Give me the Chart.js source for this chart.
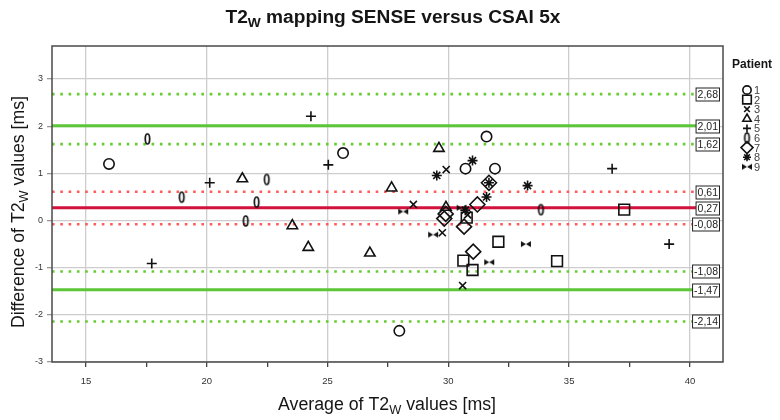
<!DOCTYPE html>
<html>
<head>
<meta charset="utf-8">
<script src="https://cdn.jsdelivr.net/npm/chart.js@4.4.1/dist/chart.umd.min.js"></script>
<style>
  html, body { margin: 0; padding: 0; background: #fff; }
  #wrap { width: 780px; height: 420px; }
</style>
</head>
<body>
<div id="wrap"><canvas id="myChart" width="780" height="420"></canvas></div>
<script>
// DATA
const patients = ['1', '2', '3', '4', '5', '6', '7', '8', '9'];

const avgP1 = [15.95, 25.64, 27.97, 30.71, 31.58, 31.93];
const diffP1 = [1.20, 1.43, -2.34, 1.10, 1.78, 1.10];
const avgP2 = [30.76, 32.07, 30.62, 31.0, 34.5, 37.28];
const diffP2 = [0.06, -0.45, -0.85, -1.05, -0.86, 0.23];
const avgP3 = [29.91, 28.55, 29.75, 30.59, 30.8];
const diffP3 = [1.08, 0.34, -0.26, -1.38, 0.12];
const avgP4 = [21.47, 23.54, 24.2, 26.75, 27.65, 29.61, 29.9];
const diffP4 = [0.885, -0.11, -0.57, -0.69, 0.69, 1.53, 0.28];
const avgP5 = [17.72, 20.12, 24.31, 25.03, 36.78, 39.14];
const diffP5 = [-0.91, 0.80, 2.21, 1.18, 1.10, -0.50];
const avgP6 = [17.54, 18.96, 21.61, 22.06, 22.48, 33.83];
const diffP6 = [1.73, 0.495, -0.01, 0.39, 0.87, 0.23];
const avgP7 = [29.89, 29.83, 30.65, 31.03, 31.2, 31.68];
const diffP7 = [0.14, 0.04, -0.13, -0.66, 0.34, 0.80];
const avgP8 = [29.52, 31.0, 31.58, 31.68, 33.28, 30.7];
const diffP8 = [0.955, 1.27, 0.50, 0.80, 0.74, 0.22];
const avgP9 = [28.13, 29.37, 30.55, 31.69, 33.21];
const diffP9 = [0.19, -0.30, 0.27, -0.885, -0.50];

// mean, CI of mean, limits of agreement and their CI
const refLevels = [2.68, 2.01, 1.62, 0.61, 0.27, -0.08, -1.08, -1.47, -2.14];
const refLabels = ['2,68', '2,01', '1,62', '0,61', '0,27', '-0,08', '-1,08', '-1,47', '-2,14'];
const refRoles = ['loaCI', 'loa', 'loaCI', 'meanCI', 'mean', 'meanCI', 'loaCI', 'loa', 'loaCI'];

const xTicks = [15, 20, 25, 30, 35, 40];
const xMinorTicks = [17.5, 22.5, 27.5, 32.5, 37.5];
const yTicks = [-3, -2, -1, 0, 1, 2, 3];

const X_MIN = 13.59, X_MAX = 41.37, Y_MIN = -3, Y_MAX = 3.7;
const LINE_END = 40.25;
const FONT = '"Liberation Sans", Arial, sans-serif';

// STYLES
const refStyle = {
  mean: { color: '#d3113d', width: 3, dash: [] },
  meanCI: { color: '#ff5b5b', width: 2.6, dash: [2.6, 5.7] },
  loa: { color: '#5cc638', width: 3, dash: [] },
  loaCI: { color: '#66cc33', width: 2.6, dash: [2.6, 5.7] },
};

// custom markers: "0" (ellipse) and bowtie
function makeEllipse() {
  const c = document.createElement('canvas');
  c.width = 9; c.height = 14;
  const g = c.getContext('2d');
  g.strokeStyle = '#111';
  g.lineWidth = 1.7;
  g.beginPath();
  g.ellipse(4.5, 7, 2.2, 5, 0, 0, Math.PI * 2);
  g.stroke();
  return c;
}
function makeBowtie() {
  const c = document.createElement('canvas');
  c.width = 12; c.height = 8;
  const g = c.getContext('2d');
  g.fillStyle = '#111';
  g.beginPath();
  g.moveTo(1, 1); g.lineTo(1, 7); g.lineTo(6, 4); g.closePath();
  g.moveTo(11, 1); g.lineTo(11, 7); g.lineTo(6, 4); g.closePath();
  g.fill();
  return c;
}

const markers = [
  { pointStyle: 'circle', radius: 5.2 },
  { pointStyle: 'rect', radius: 7.6 },
  { pointStyle: 'crossRot', radius: 5 },
  { pointStyle: 'triangle', radius: 6 },
  { pointStyle: 'cross', radius: 5 },
  { pointStyle: makeEllipse(), radius: 5 },
  { pointStyle: 'rectRot', radius: 7.5 },
  { pointStyle: 'star', radius: 5 },
  { pointStyle: makeBowtie(), radius: 5 },
];

const avgs = [avgP1, avgP2, avgP3, avgP4, avgP5, avgP6, avgP7, avgP8, avgP9];
const diffs = [diffP1, diffP2, diffP3, diffP4, diffP5, diffP6, diffP7, diffP8, diffP9];

const pointSets = patients.map((p, i) => ({
  type: 'scatter',
  label: p,
  data: avgs[i].map((x, j) => ({ x: x, y: diffs[i][j] })),
  pointStyle: markers[i].pointStyle,
  pointRadius: markers[i].radius,
  pointBorderColor: '#111',
  pointBackgroundColor: 'rgba(0,0,0,0)',
  pointBorderWidth: 1.6,
  order: 1,
}));

const lineSets = refLevels.map((v, i) => {
  const st = refStyle[refRoles[i]];
  return {
    type: 'line',
    label: 'ref' + refLabels[i],
    data: [{ x: X_MIN, y: v }, { x: LINE_END, y: v }],
    borderColor: st.color,
    borderWidth: st.width,
    borderDash: st.dash,
    pointRadius: 0,
    order: 2,
  };
});

// text with a subscript "W", squeezed to the width in the picture
function drawRich(ctx, parts, cx, cy, size, weight, width, angle) {
  ctx.save();
  ctx.translate(cx, cy);
  if (angle) ctx.rotate(angle);
  let total = 0;
  parts.forEach((p) => {
    ctx.font = weight + ' ' + (p.sub ? size * 0.72 : size) + 'px ' + FONT;
    p.w = ctx.measureText(p.t).width;
    total += p.w;
  });
  ctx.scale(width / total, 1);
  ctx.textAlign = 'left';
  ctx.textBaseline = 'middle';
  ctx.fillStyle = '#151515';
  let x = -total / 2;
  parts.forEach((p) => {
    ctx.font = weight + ' ' + (p.sub ? size * 0.72 : size) + 'px ' + FONT;
    ctx.fillText(p.t, x, p.sub ? size * 0.3 : 0);
    x += p.w;
  });
  ctx.restore();
}

const decorPlugin = {
  id: 'decor',
  afterDraw(chart) {
    const ctx = chart.ctx;
    const a = chart.chartArea;
    const ys = chart.scales.y;

    // frame
    ctx.save();
    ctx.strokeStyle = '#4a4a4a';
    ctx.lineWidth = 1.5;
    ctx.strokeRect(a.left, a.top, a.right - a.left, a.bottom - a.top);
    ctx.restore();

    // boxed labels for the horizontal lines
    ctx.save();
    ctx.font = '10.5px ' + FONT;
    ctx.textBaseline = 'middle';
    ctx.textAlign = 'right';
    refLevels.forEach((v, i) => {
      const y = Math.round(ys.getPixelForValue(v)) + 0.5;
      const w = ctx.measureText(refLabels[i]).width;
      const right = 719.5;
      ctx.fillStyle = '#fff';
      ctx.fillRect(right - w - 3, y - 6.5, w + 3, 13);
      ctx.strokeStyle = '#222';
      ctx.lineWidth = 1;
      ctx.strokeRect(right - w - 3, y - 6.5, w + 3, 13);
      ctx.fillStyle = '#222';
      ctx.fillText(refLabels[i], right - 1.5, y + 0.5);
    });
    ctx.restore();

    // titles
    drawRich(ctx, [{ t: 'T2' }, { t: 'W', sub: true }, { t: ' mapping SENSE versus CSAI 5x' }],
      393, 18, 18, 'bold', 335, 0);
    drawRich(ctx, [{ t: 'Average of T2' }, { t: 'W', sub: true }, { t: ' values [ms]' }],
      387, 405, 18, 'normal', 218, 0);
    drawRich(ctx, [{ t: 'Difference of T2' }, { t: 'W', sub: true }, { t: ' values [ms]' }],
      19, 212, 18, 'normal', 232, -Math.PI / 2);

    // legend
    ctx.save();
    ctx.fillStyle = '#151515';
    ctx.font = 'bold 12px ' + FONT;
    ctx.textAlign = 'center';
    ctx.textBaseline = 'middle';
    ctx.fillText('Patient', 752, 65);
    ctx.font = '11px ' + FONT;
    ctx.textAlign = 'left';
    patients.forEach((p, i) => {
      const y = 90 + i * 9.6;
      ctx.strokeStyle = '#111';
      ctx.fillStyle = 'rgba(0,0,0,0)';
      ctx.lineWidth = 1.6;
      Chart.helpers.drawPoint(ctx, {
        pointStyle: markers[i].pointStyle,
        radius: markers[i].radius * 0.8,
        borderWidth: 1.6,
        rotation: 0,
      }, 747, y);
      ctx.fillStyle = '#444';
      ctx.fillText(p, 754, y + 1);
    });
    ctx.restore();
  },
};

const ctx = document.querySelector('#myChart');
new Chart(ctx, {
  data: { datasets: [...lineSets, ...pointSets] },
  options: {
    responsive: false,
    animation: false,
    layout: { padding: { left: 0, top: 46, right: 57, bottom: 0 } },
    plugins: {
      legend: { display: false },
      tooltip: { enabled: false },
      title: { display: false },
    },
    scales: {
      x: {
        type: 'linear',
        min: X_MIN,
        max: X_MAX,
        afterBuildTicks: (s) => {
          s.ticks = [...xTicks, ...xMinorTicks].sort((a, b) => a - b).map((v) => ({ value: v }));
        },
        afterFit: (s) => { s.height = 58; },
        border: { display: false },
        grid: {
          color: (c) => (xMinorTicks.includes(c.tick.value) ? 'rgba(0,0,0,0)' : '#cdcdcd'),
          tickColor: '#444',
          tickLength: 5,
          lineWidth: 1.3,
        },
        ticks: {
          autoSkip: false,
          maxRotation: 0,
          padding: 9,
          color: '#333',
          font: { family: FONT, size: 9.5 },
          callback: (v) => (xTicks.includes(v) ? String(v) : ''),
        },
      },
      y: {
        type: 'linear',
        min: Y_MIN,
        max: Y_MAX,
        afterBuildTicks: (s) => {
          s.ticks = yTicks.map((v) => ({ value: v }));
        },
        afterFit: (s) => { s.width = 52; },
        border: { display: false },
        grid: {
          color: '#cdcdcd',
          tickColor: '#999',
          tickLength: 5,
          lineWidth: 1.3,
        },
        ticks: {
          padding: 4,
          color: '#333',
          font: { family: FONT, size: 9 },
          callback: (v) => String(v),
        },
      },
    },
  },
  plugins: [decorPlugin],
});
</script>
</body>
</html>
